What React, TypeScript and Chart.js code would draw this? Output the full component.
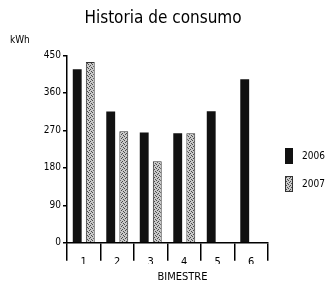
import React, { useEffect, useRef } from 'react';
import { Chart, registerables } from 'chart.js';

Chart.register(...registerables);

const categories = ['1', '2', '3', '4', '5', '6'];
const consumo2006 = [417, 315, 265, 263, 316, 393];
const consumo2007 = [434, 268, 196, 263, null, null];
const yTicks = [0, 90, 180, 270, 360, 450];
const seriesLabels = ['2006', '2007'];
const chartTitle = 'Historia de consumo';
const yUnit = 'kWh';
const xTitle = 'BIMESTRE';

const FONT = '"Liberation Sans Narrow", "DejaVu Sans Condensed", "Liberation Sans", Arial, sans-serif';

function makePattern(ctx: CanvasRenderingContext2D) {
  const c = document.createElement('canvas');
  c.width = 4;
  c.height = 4;
  const p = c.getContext('2d')!;
  p.fillStyle = '#c8c8c8';
  p.fillRect(0, 0, 4, 4);
  p.fillStyle = '#4a4a4a';
  p.fillRect(0, 0, 1, 1);
  p.fillRect(2, 1, 1, 1);
  p.fillRect(1, 2, 1, 1);
  p.fillRect(3, 3, 1, 1);
  return ctx.createPattern(c, 'repeat') as CanvasPattern;
}

const extraText = {
  id: 'extraText',
  afterDraw(chart: any) {
    const ctx = chart.ctx as CanvasRenderingContext2D;
    const a = chart.chartArea;
    ctx.save();
    ctx.fillStyle = '#000';
    ctx.font = `10px ${FONT}`;
    ctx.textAlign = 'left';
    ctx.textBaseline = 'middle';
    ctx.fillText(yUnit, 10, 40);
    ctx.font = `11px ${FONT}`;
    ctx.textAlign = 'center';
    ctx.fillText(xTitle, (a.left + a.right) / 2 + 15, 277);

    // legend
    const items = chart.data.datasets;
    const boxX = a.right + 17;
    const rowY = [156, 184];
    items.forEach((ds: any, i: number) => {
      const cy = rowY[i];
      ctx.fillStyle = ds.backgroundColor;
      ctx.fillRect(boxX, cy - 8, 8, 16);
      if (ds.borderWidth) {
        ctx.strokeStyle = ds.borderColor;
        ctx.lineWidth = 1;
        ctx.strokeRect(boxX + 0.5, cy - 7.5, 7, 15);
      }
      ctx.fillStyle = '#000';
      ctx.font = `10px ${FONT}`;
      ctx.textAlign = 'left';
      ctx.textBaseline = 'middle';
      ctx.fillText(ds.label, boxX + 17, cy);
    });
    ctx.restore();
  },
};

export default function App() {
  const ref = useRef<HTMLCanvasElement | null>(null);
  useEffect(() => {
    const canvas = ref.current!;
    const ctx = canvas.getContext('2d')!;
    const pattern = makePattern(ctx);
    const chart = new Chart(canvas, {
      type: 'bar',
      data: {
        labels: categories,
        datasets: [
          {
            label: seriesLabels[0],
            data: consumo2006,
            backgroundColor: '#111',
            borderColor: '#000',
            borderWidth: 0,
            categoryPercentage: 0.78,
            barPercentage: 0.68,
          },
          {
            label: seriesLabels[1],
            data: consumo2007 as any,
            backgroundColor: pattern,
            borderColor: '#333',
            borderWidth: 1,
            categoryPercentage: 0.78,
            barPercentage: 0.68,
          },
        ],
      },
      options: {
        responsive: false,
        animation: false,
        layout: { padding: { left: 0, right: 0, top: 0, bottom: 22 } },
        plugins: {
          title: {
            display: true,
            text: chartTitle,
            color: '#000',
            font: { family: FONT, size: 17, weight: 'normal' },
            padding: { top: 8, bottom: 27 },
          },
          legend: { display: false },
          tooltip: { enabled: false },
        },
        scales: {
          x: {
            grid: {
              display: true,
              drawOnChartArea: false,
              drawTicks: true,
              tickLength: 18,
              color: '#000',
              lineWidth: 1.5,
              offset: true,
            },
            border: { display: true, color: '#000', width: 1.5 },
            ticks: {
              color: '#000',
              font: { family: FONT, size: 11 },
              padding: -5,
            },
          },
          y: {
            min: 0,
            max: 450,
            afterBuildTicks: (axis: any) => {
              axis.ticks = yTicks.map((v) => ({ value: v }));
            },
            afterFit: (axis: any) => {
              axis.width = 67;
            },
            grid: {
              display: true,
              drawOnChartArea: false,
              drawTicks: true,
              tickLength: 4,
              color: '#000',
              lineWidth: 1.5,
            },
            border: { display: true, color: '#000', width: 1.5 },
            ticks: {
              color: '#000',
              font: { family: FONT, size: 10 },
              padding: 2,
            },
          },
          spacer: {
            type: 'linear',
            position: 'right',
            display: true,
            grid: { display: false },
            border: { display: false },
            ticks: { display: false },
            afterFit: (axis: any) => {
              axis.width = 58;
            },
          },
        },
      },
      plugins: [extraText],
    });
    return () => chart.destroy();
  }, []);
  return (
    <div style={{ position: 'fixed', left: 0, top: 0, width: 326, height: 286, background: '#fff' }}>
      <canvas ref={ref} width={326} height={286} />
    </div>
  );
}
